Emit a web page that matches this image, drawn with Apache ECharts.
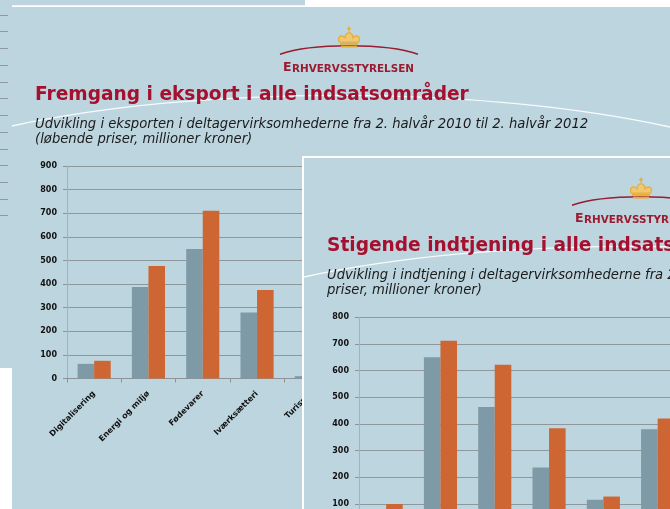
<!DOCTYPE html>
<html><head><meta charset="utf-8">
<script src="https://cdn.jsdelivr.net/npm/echarts@6/dist/echarts.min.js"></script>
<style>
html,body{margin:0;padding:0;overflow:hidden;background:#bdd5df;width:670px;height:509px;position:relative}
#c1{position:absolute;left:0;top:0;width:670px;height:509px}
#s2{position:absolute;left:302px;top:156px;width:366px;height:351px;border-left:2px solid #fff;border-top:2px solid #fff;overflow:hidden;background:#bdd5df}
#c2{position:absolute;left:0;top:0;width:760px;height:620px}
</style></head>
<body>
<div id="c1"></div>
<div id="s2"><div id="c2"></div></div>
<script>
// ---- data ----
const categories1 = ['Digitalisering', 'Energi og miljø', 'Fødevarer', 'Iværksætteri', 'Turisme'];
const eksport2010 = [62, 388, 548, 280, 10];
const eksport2012 = [75, 476, 711, 375, 20];

const categories2 = ['Digitalisering', 'Energi og miljø', 'Fødevarer', 'Iværksætteri', 'Turisme', 'Velfærd'];
const indtjening2010 = [60, 650, 464, 237, 116, 380];
const indtjening2012 = [100, 712, 622, 384, 128, 421];

const yMax1 = 900, yMax2 = 800, yStep = 100;

const title1 = 'Fremgang i eksport i alle indsatsområder';
const sub1a = 'Udvikling i eksporten i deltagervirksomhederne fra 2. halvår 2010 til 2. halvår 2012';
const sub1b = '(løbende priser, millioner kroner)';
const title2 = 'Stigende indtjening i alle indsatsområder';
const sub2a = 'Udvikling i indtjening i deltagervirksomhederne fra 2. halvår 2010 til 2. halvår 2012 (løbende';
const sub2b = 'priser, millioner kroner)';
const logoText = 'ERHVERVSSTYRELSEN';

// ---- styles ----
const GREY = '#7f9aa7', ORANGE = '#cd6633', RED = '#a5102f', LOGORED = '#9b1b30', GOLD = '#e5ad3c';
const FONT = 'DejaVu Sans';

function template(ox, oy, title, subA, subB) {
  const g = [];
  g.push({type:'bezierCurve', silent:true, z:1,
    shape:{x1:ox+0,y1:oy+119,cpx1:ox+188,cpy1:oy+78,cpx2:ox+468,cpy2:oy+78,x2:ox+658,y2:oy+120},
    style:{stroke:'#ffffff', lineWidth:1.3, fill:null, opacity:0.9}});
  g.push({type:'bezierCurve', silent:true, z:2,
    shape:{x1:ox+268,y1:oy+47.3,cpx1:ox+300,cpy1:oy+36,cpx2:ox+374,cpy2:oy+36,x2:ox+406,y2:oy+47.3},
    style:{stroke:LOGORED, lineWidth:1.5, fill:null}});
  const cx = ox+337, cy = oy;
  g.push({type:'rect', z:3, shape:{x:cx-0.7,y:cy+19.5,width:1.4,height:5}, style:{fill:GOLD}});
  g.push({type:'rect', z:3, shape:{x:cx-2,y:cy+21,width:4,height:1.3}, style:{fill:GOLD}});
  g.push({type:'polygon', z:3, shape:{points:[
      [cx-10,cy+35],[cx-10.5,cy+31],[cx-8.5,cy+28.8],[cx-5.5,cy+29.3],[cx-4,cy+31],
      [cx-3.5,cy+28],[cx-1.5,cy+26],[cx,cy+25.8],[cx+1.5,cy+26],[cx+3.5,cy+28],[cx+4,cy+31],
      [cx+5.5,cy+29.3],[cx+8.5,cy+28.8],[cx+10.5,cy+31],[cx+10,cy+35]]},
    style:{fill:'#f0c870', stroke:GOLD, lineWidth:1.2}});
  g.push({type:'rect', z:3, shape:{x:cx-9,y:cy+35.5,width:18,height:2.2}, style:{fill:GOLD}});
  g.push({type:'rect', z:3, shape:{x:cx-8,y:cy+38.6,width:16,height:2}, style:{fill:GOLD}});
  g.push({type:'text', z:3, x:ox+271, y:oy+67.7, style:{text:logoText[0], fill:LOGORED, font:'bold 12.5px "'+FONT+'"', verticalAlign:'bottom', align:'left'}});
  g.push({type:'text', z:3, x:ox+280, y:oy+67.2, style:{text:logoText.slice(1), fill:LOGORED, font:'bold 10.4px "'+FONT+'"', verticalAlign:'bottom', align:'left'}});
  g.push({type:'text', z:3, x:ox+23, y:oy+88, style:{text:title, fill:RED, font:'bold 18.6px "'+FONT+'"', verticalAlign:'middle', align:'left'}});
  g.push({type:'text', z:3, x:ox+23, y:oy+117.5, style:{text:subA, fill:'#1a1a1a', font:'italic 13.2px "'+FONT+'"', verticalAlign:'middle', align:'left'}});
  g.push({type:'text', z:3, x:ox+23, y:oy+132.5, style:{text:subB, fill:'#1a1a1a', font:'italic 13.2px "'+FONT+'"', verticalAlign:'middle', align:'left'}});
  return g;
}

function axes(gridIndex, cats, yMax) {
  return {
    x: {type:'category', gridIndex, data:cats,
      axisLine:{lineStyle:{color:'#8c9297', width:1}},
      axisTick:{show:true, length:4, lineStyle:{color:'#8c9297'}},
      axisLabel:{rotate:45, margin:14, color:'#111', fontFamily:FONT, fontSize:8, fontWeight:'bold', interval:0}},
    y: {type:'value', gridIndex, min:0, max:yMax, interval:yStep,
      axisLine:{show:true, lineStyle:{color:'#a3b2b9'}},
      axisTick:{show:true, length:4, lineStyle:{color:'#8c9297'}},
      axisLabel:{margin:10, color:'#111', fontFamily:FONT, fontSize:8, fontWeight:'bold'},
      splitLine:{lineStyle:{color:'#8e979c', width:1}}}
  };
}

const ch1 = echarts.init(document.getElementById('c1'), null, {renderer:'canvas'});
const a1 = axes(0, categories1, yMax1);
const g1 = template(12, 7, title1, sub1a, sub1b);
g1.push({type:'rect', z:5, shape:{x:305,y:0,width:365,height:7}, style:{fill:'#ffffff'}});
g1.push({type:'rect', z:5, shape:{x:12,y:5.3,width:294,height:1.6}, style:{fill:'#ffffff'}});
g1.push({type:'rect', z:5, shape:{x:0,y:368,width:12,height:141}, style:{fill:'#ffffff'}});
ch1.setOption({
  animation:false,
  backgroundColor:'#bdd5df',
  grid:[
    {left:67, top:166, width:54.3*categories1.length, height:212.5, outerBoundsMode:'none', containLabel:false},
    {left:-42, top:15, width:50, height:200.7, outerBoundsMode:'none', containLabel:false}
  ],
  xAxis:[a1.x, {type:'value', gridIndex:1, show:false}],
  yAxis:[a1.y, {type:'value', gridIndex:1, min:0, max:12, interval:1,
    axisLine:{show:false}, axisTick:{show:false}, axisLabel:{show:false},
    splitLine:{lineStyle:{color:'#8f9aa0'}}}],
  series:[
    {type:'bar', xAxisIndex:0, yAxisIndex:0, data:eksport2010, itemStyle:{color:GREY}, barGap:'0%', barCategoryGap:'39%'},
    {type:'bar', xAxisIndex:0, yAxisIndex:0, data:eksport2012, itemStyle:{color:ORANGE}, barGap:'0%', barCategoryGap:'39%'}
  ],
  graphic:g1
});

const ch2 = echarts.init(document.getElementById('c2'), null, {renderer:'canvas'});
const a2 = axes(0, categories2, yMax2);
ch2.setOption({
  animation:false,
  backgroundColor:'#bdd5df',
  grid:[{left:55, top:159.3, width:54.3*categories2.length, height:213.4, outerBoundsMode:'none', containLabel:false}],
  xAxis:[a2.x],
  yAxis:[a2.y],
  series:[
    {type:'bar', data:indtjening2010, itemStyle:{color:GREY}, barGap:'0%', barCategoryGap:'39%'},
    {type:'bar', data:indtjening2012, itemStyle:{color:ORANGE}, barGap:'0%', barCategoryGap:'39%'}
  ],
  graphic:template(0, 0, title2, sub2a, sub2b)
});
</script>
</body></html>
